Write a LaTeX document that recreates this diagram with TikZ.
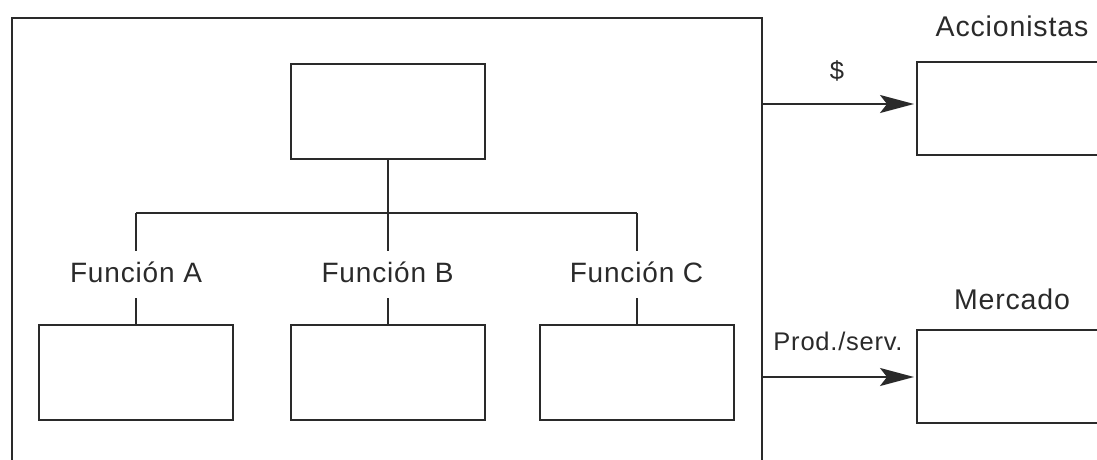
\documentclass[tikz,border=0pt]{standalone}
\usepackage{fontspec}
\setmainfont{Liberation Sans}[LetterSpace=3]
\usetikzlibrary{arrows.meta}
\definecolor{ink}{HTML}{2A2A2A}
\begin{document}
\begin{tikzpicture}[x=1pt,y=-1pt,
  line width=2pt, draw=ink, text=ink,
  box/.style={draw=ink, line width=2pt, inner sep=0pt, minimum width=194pt, minimum height=95pt},
  extbox/.style={draw=ink, line width=2pt, inner sep=0pt, anchor=north west, minimum width=200pt, minimum height=93pt},
  funclabel/.style={inner sep=0pt, text height=30pt, text depth=15pt, anchor=base, font=\fontsize{28}{32}\selectfont},
  sidelabel/.style={inner sep=0pt, anchor=base, font=\fontsize{28.5}{32}\selectfont},
  flowlabel/.style={inner sep=0pt, anchor=base, font=\fontsize{25.5}{30}\selectfont},
  flow/.style={-{Stealth[length=34pt,width=18pt,inset=7pt]}, shorten >=2pt}]
\useasboundingbox (0,0) rectangle (1097,459);
\clip (0,0) rectangle (1097,459);

% the company, open at the bottom
\node[draw=ink, line width=2pt, inner sep=0pt, anchor=north west,
      minimum width=750pt, minimum height=520pt] (org) at (11,17) {};

% organisation chart
\node[box] (head) at (387.5,111.5) {};
\node[box] (fa) at (136,372.5) {};
\node[box] (fb) at (387.5,372.5) {};
\node[box] (fc) at (636.5,372.5) {};
\coordinate (bus) at (387.5,213);

\node[funclabel] (la) at (136,282) {Función A};
\node[funclabel] (lb) at (387.5,282) {Función B};
\node[funclabel] (lc) at (636.5,282) {Función C};

\draw (head.south) -- (bus);
\draw (fa.north |- bus) -- (fc.north |- bus);
\draw (fa.north |- bus) -- (la.north);
\draw (la.south) -- (fa.north);
\draw (bus) -- (lb.north);
\draw (lb.south) -- (fb.north);
\draw (fc.north |- bus) -- (lc.north);
\draw (lc.south) -- (fc.north);

% outside parties
\node[extbox] (acc) at (916,61) {};
\node[extbox] (mkt) at (916,329) {};
\node[sidelabel] (lacc) at (1012,36) {Accionistas};
\node[sidelabel] (lmkt) at (1012,309) {Mercado};

% flows leaving the company
\coordinate (accin) at (916,104);
\coordinate (mktin) at (916,377);
\coordinate (outA) at (org.east |- accin);
\coordinate (outB) at (org.east |- mktin);
\draw[flow] (outA) -- (accin);
\draw[flow] (outB) -- (mktin);
\node[flowlabel] (ldol) at (837,79) {\$};
\node[flowlabel] (lprod) at (838,350) {Prod./serv.};
\end{tikzpicture}
\end{document}
